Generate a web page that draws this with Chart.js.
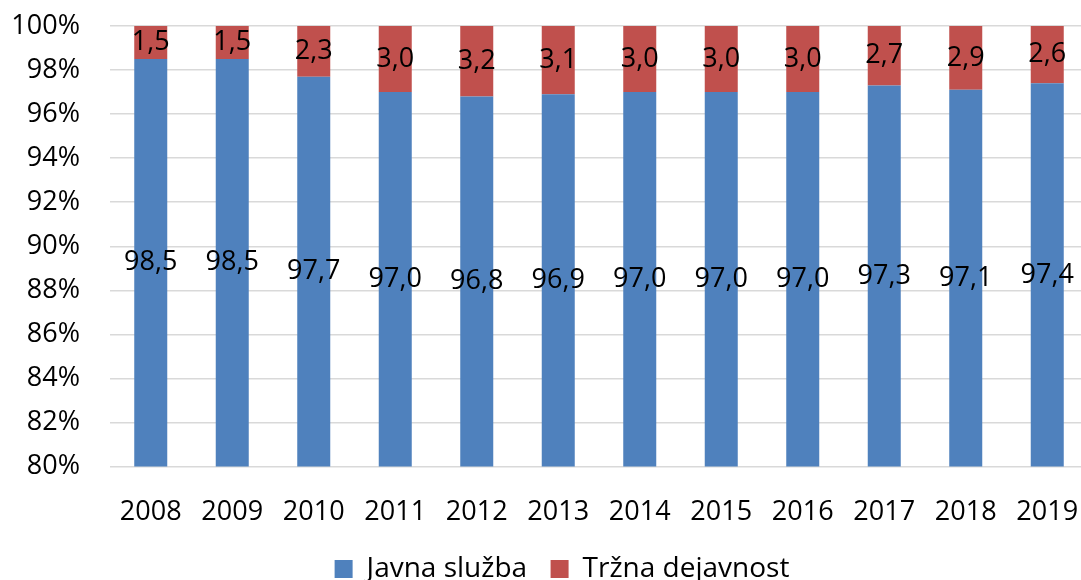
<!DOCTYPE html>
<html>
<head>
<meta charset="utf-8">
<script src="https://cdn.jsdelivr.net/npm/chart.js@4/dist/chart.umd.min.js"></script>
<style>
html,body{margin:0;padding:0;overflow:hidden;background:#fff;width:1081px;height:580px;}
canvas{display:block;}
</style>
</head>
<body>
<canvas id="c" width="1124" height="580" style="width:1124px;height:580px"></canvas>
<script>
const years = ['2008','2009','2010','2011','2012','2013','2014','2015','2016','2017','2018','2019'];
const javnaSluzba = [98.5, 98.5, 97.7, 97.0, 96.8, 96.9, 97.0, 97.0, 97.0, 97.3, 97.1, 97.4];
const trznaDejavnost = [1.5, 1.5, 2.3, 3.0, 3.2, 3.1, 3.0, 3.0, 3.0, 2.7, 2.9, 2.6];
const seriesNames = ['Javna služba', 'Tržna dejavnost'];
const yMin = 80, yMax = 100, yStep = 2;

const FONT = '"Open Sans", "Liberation Sans", sans-serif';

const labelPlugin = {
  id: 'barLabels',
  afterLayout(chart) {
    if (chart.legend) { chart.legend.left = 36; }
  },
  afterDatasetsDraw(chart) {
    const ctx = chart.ctx;
    const ys = chart.scales.y;
    ctx.save();
    ctx.font = '27px ' + FONT;
    ctx.fillStyle = '#000';
    ctx.textAlign = 'center';
    ctx.textBaseline = 'middle';
    chart.data.labels.forEach((lab, i) => {
      let cum = 0;
      chart.data.datasets.forEach((ds, di) => {
        const v = ds.data[i];
        const start = cum, end = cum + v;
        cum = end;
        const el = chart.getDatasetMeta(di).data[i];
        const lo = Math.max(start, yMin), hi = Math.min(end, yMax);
        if (hi <= lo) return;
        const y = ys.getPixelForValue((lo + hi) / 2);
        ctx.fillText(v.toFixed(1).replace('.', ','), el.x, y);
      });
    });
    ctx.restore();
  }
};

new Chart(document.getElementById('c'), {
  type: 'bar',
  data: {
    labels: years,
    datasets: [
      { label: seriesNames[0], data: javnaSluzba, backgroundColor: '#4F81BD', borderWidth: 0 },
      { label: seriesNames[1], data: trznaDejavnost, backgroundColor: '#C0504D', borderWidth: 0 }
    ]
  },
  options: {
    responsive: false,
    animation: false,
    devicePixelRatio: 1,
    layout: { padding: { left: 0, right: 36, top: 26, bottom: -13 } },
    datasets: { bar: { barPercentage: 0.405, categoryPercentage: 1 } },
    plugins: {
      tooltip: { enabled: false },
      legend: {
        position: 'bottom',
        labels: {
          font: { family: FONT, size: 28 },
          color: '#000',
          boxWidth: 18,
          boxHeight: 18,
          padding: 23.5
        }
      }
    },
    scales: {
      x: {
        stacked: true,
        grid: { display: false, drawTicks: false },
        border: { display: false },
        ticks: { font: { family: FONT, size: 27 }, color: '#000', padding: 30, maxRotation: 0 },
        afterFit(s) { s.height = 65; }
      },
      y: {
        stacked: true,
        min: yMin, max: yMax,
        grid: { color: '#d9d9d9', lineWidth: 1.5, drawTicks: true, tickLength: 30, tickColor: 'rgba(0,0,0,0)' },
        border: { display: false },
        ticks: { stepSize: yStep, font: { family: FONT, size: 27 }, color: '#000', padding: 0,
          callback: v => v + '%' },
        afterFit(s) { s.width = 110; }
      }
    }
  },
  plugins: [labelPlugin]
});
</script>
</body>
</html>
